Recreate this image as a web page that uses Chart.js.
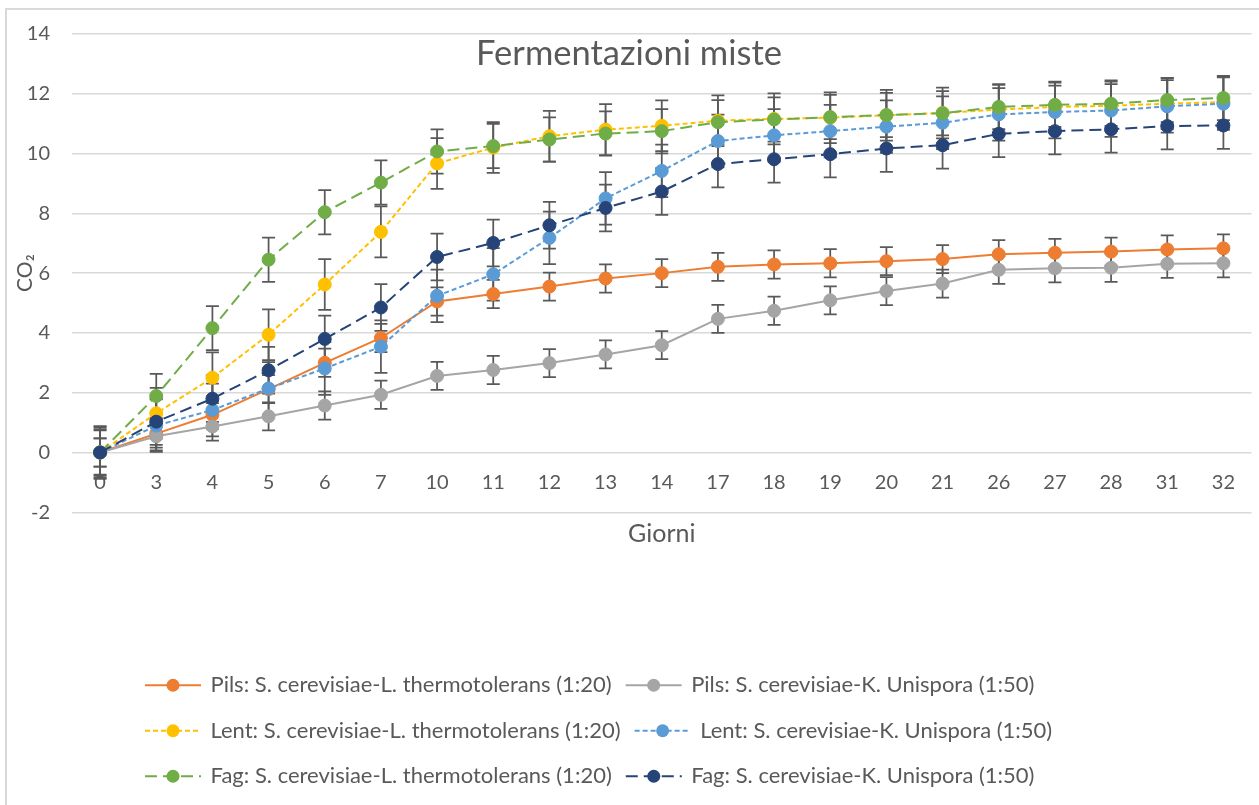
<!DOCTYPE html>
<html>
<head>
<meta charset="utf-8">
<title>Fermentazioni miste</title>
<script src="https://cdn.jsdelivr.net/npm/chart.js@4.4.0/dist/chart.umd.min.js"></script>
<style>
    html, body { margin: 0; padding: 0; background: #ffffff; overflow: hidden; }
    #frame { position: absolute; left: 5px; top: 8px; width: 1400px; height: 900px; border: 2px solid #d9d9d9; box-sizing: border-box; }
    #wrap { position: absolute; left: 0; top: 0; width: 1259px; height: 805px; }
</style>
</head>
<body>
<div id="frame"></div>
<div id="wrap"><canvas id="my_chart"></canvas></div>
<script>
// days of fermentation (category axis)
const days = ['0', '3', '4', '5', '6', '7', '10', '11', '12', '13', '14', '17', '18', '19', '20', '21', '26', '27', '28', '31', '32'];

// CO2 values, one array per series
const pils_lt = [0, 0.63, 1.26, 2.12, 3.0, 3.83, 5.05, 5.3, 5.55, 5.82, 6.0, 6.21, 6.29, 6.33, 6.4, 6.47, 6.63, 6.68, 6.72, 6.79, 6.83];
const pils_ku = [0, 0.54, 0.87, 1.21, 1.57, 1.93, 2.56, 2.76, 2.99, 3.28, 3.59, 4.47, 4.74, 5.09, 5.4, 5.65, 6.11, 6.16, 6.18, 6.31, 6.33];
const lent_lt = [0, 1.31, 2.5, 3.94, 5.62, 7.38, 9.67, 10.2, 10.58, 10.8, 10.93, 11.1, 11.16, 11.2, 11.28, 11.36, 11.47, 11.56, 11.6, 11.67, 11.72];
const lent_ku = [0, 0.9, 1.42, 2.14, 2.81, 3.54, 5.24, 5.96, 7.18, 8.5, 9.42, 10.42, 10.61, 10.75, 10.9, 11.03, 11.31, 11.39, 11.44, 11.58, 11.67];
const fag_lt = [0, 1.89, 4.16, 6.45, 8.04, 9.03, 10.07, 10.25, 10.47, 10.67, 10.75, 11.05, 11.14, 11.22, 11.29, 11.35, 11.56, 11.63, 11.67, 11.79, 11.86];
const fag_ku = [0, 1.03, 1.8, 2.75, 3.8, 4.85, 6.54, 7.01, 7.6, 8.18, 8.73, 9.65, 9.81, 9.98, 10.17, 10.28, 10.66, 10.75, 10.81, 10.92, 10.94];

// error bar size (+/-), same for every point of a series
const series_errors = [0.47, 0.47, 0.85, 0.88, 0.74, 0.78];

const series_names = [
    'Pils: S. cerevisiae-L. thermotolerans (1:20)',
    'Pils: S. cerevisiae-K. Unispora (1:50)',
    'Lent: S. cerevisiae-L. thermotolerans (1:20)',
    'Lent: S. cerevisiae-K. Unispora (1:50)',
    'Fag: S. cerevisiae-L. thermotolerans (1:20)',
    'Fag: S. cerevisiae-K. Unispora (1:50)'
];

const y_ticks = [-2, 0, 2, 4, 6, 8, 10, 12, 14];

const series_values = [pils_lt, pils_ku, lent_lt, lent_ku, fag_lt, fag_ku];
const series_colors = ['#ED7D31', '#A5A5A5', '#FFC000', '#5B9BD5', '#70AD47', '#264478'];
const series_dash = [[], [], [5, 3], [5, 3], [12, 6], [12, 6]];

Chart.defaults.font.family = 'Lato';
Chart.defaults.color = '#595959';

const datasets = series_values.map((values, i) => {
    return {
        label: series_names[i],
        data: values,
        xAxisID: 'x',
        yAxisID: 'y',
        borderColor: series_colors[i],
        backgroundColor: series_colors[i],
        borderWidth: 2,
        borderDash: series_dash[i],
        pointRadius: 6.5,
        pointBorderWidth: 1,
        pointBackgroundColor: series_colors[i],
        pointBorderColor: series_colors[i],
        tension: 0,
        // later series are drawn on top
        order: series_values.length - i
    };
});

const error_bars = {
    id: 'error_bars',
    beforeDatasetsDraw(chart) {
        const ctx = chart.ctx;
        const y_scale = chart.scales.y;
        ctx.save();
        ctx.strokeStyle = '#595959';
        ctx.lineWidth = 1.75;
        chart.data.datasets.forEach((ds, i) => {
            const meta = chart.getDatasetMeta(i);
            meta.data.forEach((pt, j) => {
                const v = ds.data[j];
                const top = y_scale.getPixelForValue(v + series_errors[i]);
                const bottom = y_scale.getPixelForValue(v - series_errors[i]);
                ctx.beginPath();
                ctx.moveTo(pt.x, top);
                ctx.lineTo(pt.x, bottom);
                ctx.moveTo(pt.x - 6.5, top);
                ctx.lineTo(pt.x + 6.5, top);
                ctx.moveTo(pt.x - 6.5, bottom);
                ctx.lineTo(pt.x + 6.5, bottom);
                ctx.stroke();
            });
        });
        ctx.restore();
    }
};

// line + marker samples in the legend, and legend moved to the left like the original
const legend_samples = {
    id: 'legend_samples',
    afterLayout(chart) {
        chart.legend.left = 131;
    },
    afterDraw(chart) {
        const ctx = chart.ctx;
        const items = chart.legend.legendItems;
        chart.legend.legendHitBoxes.forEach((box, k) => {
            const i = items[k].datasetIndex;
            const y = box.top + box.height / 2;
            const x0 = box.left + 10;
            const x1 = x0 + 56;
            ctx.save();
            ctx.strokeStyle = series_colors[i];
            ctx.lineWidth = 2;
            ctx.setLineDash(series_dash[i]);
            ctx.beginPath();
            ctx.moveTo(x0, y);
            ctx.lineTo(x1, y);
            ctx.stroke();
            ctx.setLineDash([]);
            ctx.fillStyle = series_colors[i];
            ctx.beginPath();
            ctx.arc((x0 + x1) / 2, y, 6.5, 0, 2 * Math.PI);
            ctx.fill();
            ctx.restore();
        });
    }
};

const canvas = document.getElementById('my_chart');

let chart = new Chart(canvas, {
    type: 'line',
    data: {
        labels: days,
        datasets: datasets
    },
    options: {
        responsive: true,
        maintainAspectRatio: false,
        animation: false,
        layout: {
            padding: { left: 6, right: 7, top: 31, bottom: -2 }
        },
        plugins: {
            tooltip: { enabled: false },
            title: {
                display: true,
                text: 'Fermentazioni miste',
                color: '#595959',
                font: { size: 34.5, weight: 'normal' },
                padding: { top: -0.5, bottom: -40.9 }
            },
            legend: {
                position: 'bottom',
                align: 'start',
                labels: {
                    color: '#595959',
                    font: { size: 22 },
                    boxWidth: 64.5,
                    boxHeight: 41.5,
                    padding: 4,
                    sort: (a, b) => a.datasetIndex - b.datasetIndex,
                    generateLabels(chart) {
                        const items = Chart.defaults.plugins.legend.labels.generateLabels(chart);
                        items.forEach(item => {
                            item.fillStyle = 'rgba(0,0,0,0)';
                            item.strokeStyle = 'rgba(0,0,0,0)';
                            item.lineWidth = 0;
                        });
                        return items;
                    }
                }
            }
        },
        scales: {
            x: {
                type: 'category',
                position: { y: 0 },
                offset: true,
                grid: { display: false, drawTicks: false },
                border: { display: false },
                ticks: {
                    color: '#595959',
                    font: { size: 20 },
                    padding: 18,
                    autoSkip: false,
                    maxRotation: 0
                }
            },
            y: {
                type: 'linear',
                position: 'left',
                min: y_ticks[0],
                max: y_ticks[y_ticks.length - 1],
                afterBuildTicks: (scale) => {
                    scale.ticks = y_ticks.map(v => ({ value: v }));
                },
                grid: { color: '#d9d9d9', lineWidth: 1.5, drawTicks: false },
                border: { display: false },
                ticks: {
                    color: '#595959',
                    font: { size: 20 },
                    padding: 22
                },
                title: {
                    display: true,
                    text: 'CO₂',
                    color: '#595959',
                    font: { size: 21 },
                    padding: { top: 7, bottom: -33.4 }
                }
            },
            x2: {
                type: 'category',
                position: 'bottom',
                offset: true,
                grid: { display: false, drawTicks: false },
                border: { display: false },
                ticks: { display: false },
                title: {
                    display: true,
                    text: 'Giorni',
                    color: '#595959',
                    font: { size: 25 },
                    padding: { top: 7, bottom: 111.25 }
                }
            }
        }
    },
    plugins: [error_bars, legend_samples]
});
</script>
</body>
</html>
